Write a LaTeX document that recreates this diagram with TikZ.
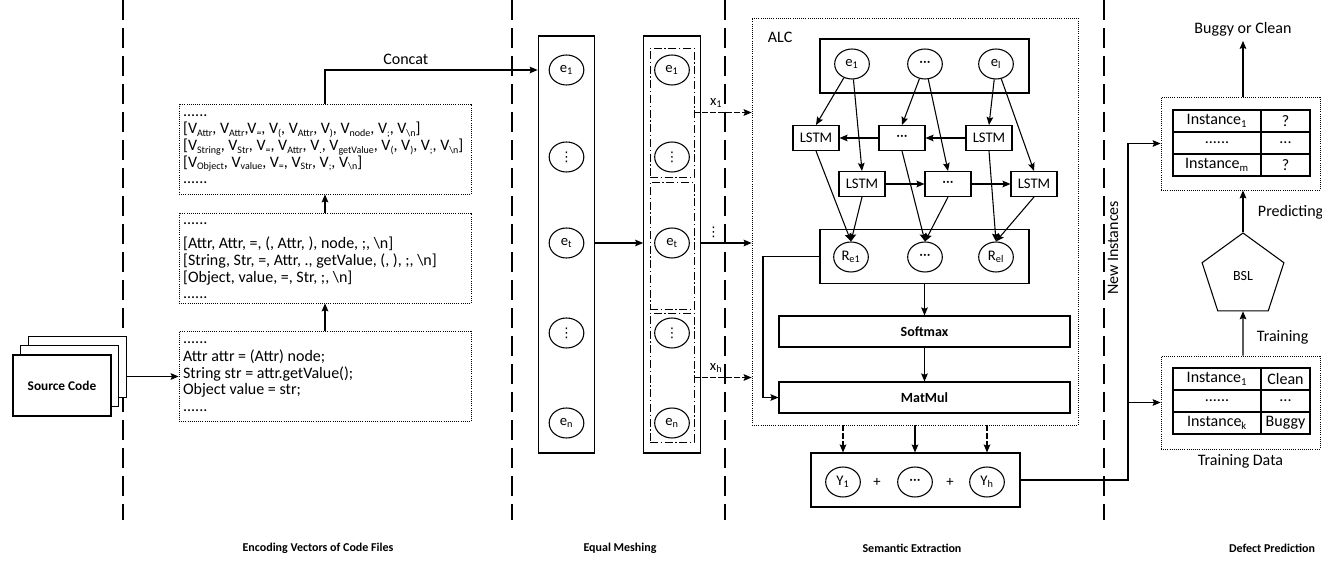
\documentclass[tikz,border=0pt]{standalone}
\usepackage{fontspec}
\setmainfont{Carlito}
\newfontfamily\symfont{DejaVu Sans}
\usepackage{tikz}
\usetikzlibrary{shapes,arrows.meta,positioning}
\newcommand{\sub}[1]{\textsubscript{#1}}
\newcommand{\vsub}[1]{\raisebox{-0.35ex}{\fontsize{7.5}{8}\selectfont#1}}
\newcommand{\cdts}{···}
\newcommand{\vdts}{{\symfont\fontsize{10}{12}\selectfont ⋮}}

\begin{document}
\begin{tikzpicture}[
    x=0.75pt, y=-0.75pt,
    line width=0.8pt,
    every node/.style={font=\fontsize{11}{13}\selectfont},
    lbl/.style={font=\fontsize{12}{14}\selectfont},
    stagelbl/.style={font=\bfseries\fontsize{9}{11}\selectfont},
    page/.style={rectangle, draw, fill=white, minimum width=73.5pt, minimum height=45.75pt},
    codebox/.style={rectangle, draw, densely dotted, line width=0.6pt, minimum width=219pt,
                    minimum height=67.5pt},
    codetxt/.style={anchor=west, align=left, inner sep=2pt,
                    font=\fontsize{12}{12.4}\selectfont},
    colbox/.style={rectangle, draw, minimum width=42.5pt, minimum height=312.75pt},
    meshbox/.style={rectangle, draw, dash pattern=on 6pt off 2pt on 1pt off 2pt,
                    line width=0.6pt, minimum width=33pt},
    circ/.style={ellipse, draw, minimum width=26pt, minimum height=22.5pt, inner sep=0pt},
    lstm/.style={rectangle, draw, minimum width=34.5pt, minimum height=18.75pt, inner sep=0pt},
    alcbox/.style={rectangle, draw, densely dotted, line width=0.6pt,
                   minimum width=244.5pt, minimum height=305.25pt},
    rowbox/.style={rectangle, draw, minimum width=156.75pt, minimum height=40.5pt},
    wide/.style={rectangle, draw, minimum width=218.25pt, minimum height=23.25pt,
                 font=\bfseries\fontsize{10.5}{12}\selectfont},
    tblbox/.style={rectangle, draw, densely dotted, line width=0.6pt,
                   minimum width=119.25pt, minimum height=69.75pt},
    cell/.style={rectangle, draw, minimum height=16.5pt, inner sep=0pt, outer sep=0pt,
                 font=\fontsize{12}{14}\selectfont},
    cellL/.style={cell, minimum width=66pt},
    cellR/.style={cell, minimum width=36.75pt},
    sepline/.style={dash pattern=on 15pt off 6pt, line width=0.9pt},
    arrow/.style={-{Stealth[length=6pt, width=5pt, inset=1pt]}, line width=0.8pt},
    dasharrow/.style={arrow, dash pattern=on 4pt off 2pt}
]
\useasboundingbox (0,0) rectangle (1322,566);

% Separators
\draw[sepline] (123,0) -- (123,520);
\draw[sepline] (512,0) -- (512,520);
\draw[sepline] (725,0) -- (725,520);
\draw[sepline] (1104,0) -- (1104,520);

% Source code
\node[page] (page3) at (77.5,367) {};
\node[page] (page2) at (69.5,376) {};
\node[page, font=\bfseries\fontsize{10}{12}\selectfont] (src) at (62,385.5) {Source Code};

% Encoding
\node[codebox] (code) at (325,376.5) {};
\node[codetxt] (codetext) at ([xshift=1pt]code.west) {......\\[1pt] Attr attr = (Attr) node;\\ String str = attr.getValue();\\ Object value = str;\\ ......};
\node[codebox] (tok) at (325,258) {};
\node[codetxt] (toktext) at ([xshift=1pt,yshift=-2pt]tok.west) {......\\[6pt] {[}Attr, Attr, =, (, Attr, ), node, ;, \textbackslash n]\\ {[}String, Str, =, Attr, ., getValue, (, ), ;, \textbackslash n]\\ {[}Object, value, =, Str, ;, \textbackslash n]\\ ......};
\node[codebox] (vec) at (325,149) {};
\node[codetxt] (vectext) at ([xshift=1pt]vec.west) {......\\[1pt] {[}V\vsub{Attr}, V\vsub{Attr},V\vsub{=}, V\vsub{(}, V\vsub{Attr}, V\vsub{)}, V\vsub{node}, V\vsub{;}, V\vsub{\textbackslash n}]\\ {[}V\vsub{String}, V\vsub{Str}, V\vsub{=}, V\vsub{Attr}, V\vsub{.}, V\vsub{getValue}, V\vsub{(}, V\vsub{)}, V\vsub{;}, V\vsub{\textbackslash n}]\\ {[}V\vsub{Object}, V\vsub{value}, V\vsub{=}, V\vsub{Str}, V\vsub{;}, V\vsub{\textbackslash n}]\\ ......};

% Equal meshing
\node[colbox] (col1) at (566.5,244.5) {};
\node[circ] (a1) at (566.5,70) {e\sub{1}};
\node[circ] (a2) at (566.5,157) {\vdts};
\node[circ] (a3) at (566.5,243) {e\sub{t}};
\node[circ] (a4) at (566.5,333) {\vdts};
\node[circ] (a5) at (566.5,423) {e\sub{n}};
\node[colbox] (col2) at (672,244.5) {};
\node[meshbox, minimum height=96.75pt] (seg1) at (672,112.5) {};
\node[meshbox, minimum height=95.25pt] (seg2) at (672,245.5) {};
\node[meshbox, minimum height=96.75pt] (seg3) at (672,377.5) {};
\node[circ] (b1) at (672,70) {e\sub{1}};
\node[circ] (b2) at (672,157) {\vdts};
\node[circ] (b3) at (672,243) {e\sub{t}};
\node[circ] (b4) at (672,333) {\vdts};
\node[circ] (b5) at (672,423) {e\sub{n}};

% ALC
\node[alcbox] (alc) at (915,221.5) {};
\node[lbl, anchor=west] (alclbl) at (763,37) {ALC};
\node[rowbox] (erow) at (924.5,66) {};
\node[circ] (e1) at (852,64) {e\sub{1}};
\node[circ] (ed) at (925,64) {\cdts};
\node[circ] (el) at (996,64) {e\sub{l}};
\node[lstm] (la1) at (816,138) {LSTM};
\node[lstm] (la2) at (902,138) {\cdts};
\node[lstm] (la3) at (989,138) {LSTM};
\node[lstm] (lb1) at (862,184) {LSTM};
\node[lstm] (lb2) at (948,184) {\cdts};
\node[lstm] (lb3) at (1034,184) {LSTM};
\node[rowbox] (rrow) at (924.5,256.5) {};
\node[circ] (r1) at (851,257) {R\sub{e1}};
\node[circ] (rd) at (925,257) {\cdts};
\node[circ] (rl) at (996,257) {R\sub{el}};
\node[wide] (soft) at (924.5,331.5) {Softmax};
\node[wide] (mat) at (924.5,397.5) {MatMul};
\coordinate (loop) at (763,0);

% Outputs
\node[rowbox] (yrow) at (915.5,480) {};
\node[circ] (y1) at (843,482) {Y\sub{1}};
\node[circ] (yd) at (915,482) {\cdts};
\node[circ] (yh) at (987,482) {Y\sub{h}};
\node (plus1) at (877,482) {+};
\node (plus2) at (950,482) {+};

% Defect prediction
\node[tblbox] (predbox) at (1240.5,143.5) {};
\node[cellL] (p1a) at (1217,121) {Instance\sub{1}};
\node[cellR, right=0pt of p1a] (p1b) {?};
\node[cellL, below=0pt of p1a] (p2a) {......};
\node[cellR, right=0pt of p2a] (p2b) {...};
\node[cellL, below=0pt of p2a] (p3a) {Instance\sub{m}};
\node[cellR, right=0pt of p3a] (p3b) {?};
\node[lbl] (result) at (1243,29) {Buggy or Clean};
\node[regular polygon, regular polygon sides=5, draw, minimum size=64.5pt, inner sep=0pt,
      font=\fontsize{10.5}{12}\selectfont] (bsl) at (1243,276) {BSL};
\node[tblbox] (trainbox) at (1240.5,402.5) {};
\node[cellL] (t1a) at (1217,379) {Instance\sub{1}};
\node[cellR, right=0pt of t1a] (t1b) {Clean};
\node[cellL, below=0pt of t1a] (t2a) {......};
\node[cellR, right=0pt of t2a] (t2b) {...};
\node[cellL, below=0pt of t2a] (t3a) {Instance\sub{k}};
\node[cellR, right=0pt of t3a] (t3b) {Buggy};
\node[lbl, below=0pt of trainbox] (trainlbl) {Training Data};
\node[lbl, anchor=west] (predlbl) at (1253,212) {Predicting};
\node[lbl, anchor=west] (trnlbl) at (1252,337) {Training};
\node[lbl, rotate=90] (newlbl) at (1113,248) {New Instances};
\coordinate (trunk) at (1128,0);

% Stage labels
\node[stagelbl] (st1) at (318,548) {Encoding Vectors of Code Files};
\node[stagelbl] (st2) at (620,548) {Equal Meshing};
\node[stagelbl] (st3) at (912,548) {Semantic Extraction};
\node[stagelbl] (st4) at (1272,548) {Defect Prediction};

% Arrows
\draw[arrow] (page3.east |- code.west) -- (code.west);
\draw[arrow] (code.north) -- (tok.south);
\draw[arrow] (tok.north) -- (vec.south);
\draw[arrow] (vec.north) |- (col1.west |- a1) node[lbl, pos=0.69, above] (concatlbl) {Concat};
\draw[arrow] (col1.east |- a3) -- (col2.west |- a3);
\draw[dasharrow] (seg1.east) -- (seg1.east -| alc.west) node[pos=0.38, above] (x1lbl) {x\sub{1}};
\draw[arrow] (col2.east |- b3) -- (alc.west |- b3) node[pos=0.25, above] (dotlbl) {\vdts};
\draw[dasharrow] (seg3.east) -- (seg3.east -| alc.west) node[pos=0.38, above] (xhlbl) {x\sub{h}};

\draw[arrow] (e1) -- (la1.north);
\draw[arrow] (e1) -- (lb1.north);
\draw[arrow] (ed) -- (la2.north);
\draw[arrow] (ed) -- (lb2.north);
\draw[arrow] (el) -- (la3.north);
\draw[arrow] (el) -- (lb3.north);
\draw[arrow] (la3.west) -- (la2.east);
\draw[arrow] (la2.west) -- (la1.east);
\draw[arrow] (lb1.east) -- (lb2.west);
\draw[arrow] (lb2.east) -- (lb3.west);
\draw[arrow] (la1.south) -- (r1.north);
\draw[arrow] (lb1.south) -- (r1.north);
\draw[arrow] (la2.south) -- (rd.north);
\draw[arrow] (lb2.south) -- (rd.north);
\draw[arrow] (la3.south) -- (rl.north);
\draw[arrow] (lb3.south) -- (rl.north);
\draw[arrow] (rrow.south) -- (rrow.south |- soft.north);
\draw[arrow] (soft.south) -- (soft.south |- mat.north);
\draw[arrow] (rrow.west) -| (loop |- mat.west) -- (mat.west);

\draw[dasharrow] (y1 |- alc.south) -- (y1 |- yrow.north);
\draw[arrow] (yd |- alc.south) -- (yd |- yrow.north);
\draw[dasharrow] (yh |- alc.south) -- (yh |- yrow.north);

\draw[arrow] (yrow.east) -| (trunk |- predbox.west) -- (predbox.west);
\draw[arrow] (trunk |- trainbox.west) -- (trainbox.west);
\draw[arrow] (predbox.north -| bsl) -- (result.south);
\draw[arrow] (bsl.north) -- (bsl.north |- predbox.south);
\draw[arrow] (trainbox.north -| bsl) -- (bsl.south);
\end{tikzpicture}
\end{document}
